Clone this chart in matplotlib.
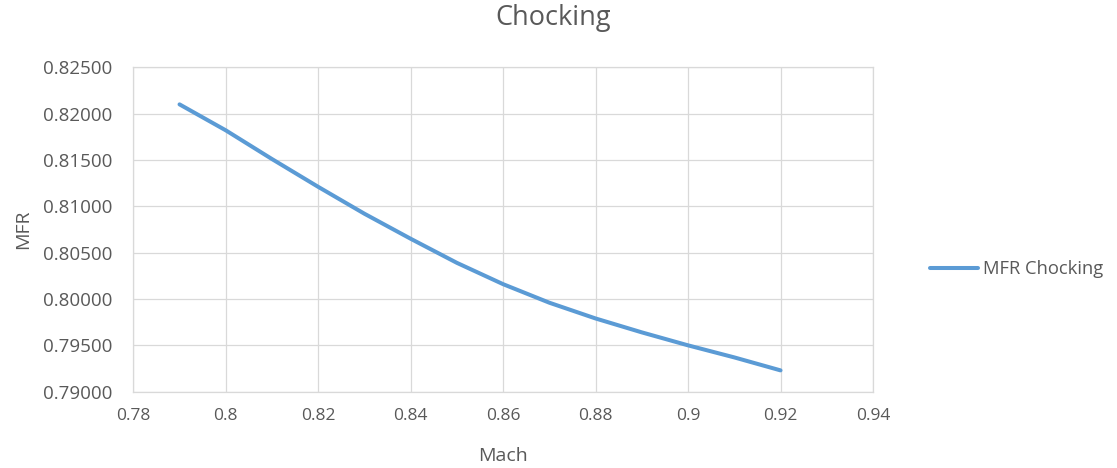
import matplotlib
matplotlib.use("Agg")
import matplotlib.pyplot as plt
import numpy as np

# values
mach = [0.79, 0.80, 0.81, 0.82, 0.83, 0.84, 0.85, 0.86, 0.87, 0.88, 0.89, 0.90, 0.91, 0.92]
mfr = [0.8210, 0.8182, 0.8151, 0.8121, 0.8092, 0.8065, 0.8039, 0.8016, 0.7996, 0.7979,
       0.7964, 0.7950, 0.7937, 0.7923]
x_ticks = [0.78, 0.80, 0.82, 0.84, 0.86, 0.88, 0.90, 0.92, 0.94]
x_labels = ["0.78", "0.8", "0.82", "0.84", "0.86", "0.88", "0.9", "0.92", "0.94"]
y_ticks = [0.790, 0.795, 0.800, 0.805, 0.810, 0.815, 0.820, 0.825]

plt.rcParams['font.family'] = ['Open Sans', 'DejaVu Sans']
grey = "#595959"
grid = "#D9D9D9"

fig = plt.figure(figsize=(11.17, 4.68), dpi=100)
ax = fig.add_axes([133.3 / 1117, 1 - 391.7 / 468, (873 - 133.3) / 1117, (391.7 - 67.3) / 468])

line, = ax.plot(mach, mfr, color="#5B9BD5", lw=2.9, solid_capstyle="round",
                solid_joinstyle="round", label="MFR Chocking")

ax.set_xlim(0.78, 0.94)
ax.set_ylim(0.790, 0.825)
ax.set_xticks(x_ticks)
ax.set_xticklabels(x_labels)
ax.set_yticks(y_ticks)
ax.set_yticklabels([f"{v:.5f}" for v in y_ticks])
ax.tick_params(length=0, colors=grey)
ax.tick_params(axis="x", labelsize=12.5, pad=12)
ax.tick_params(axis="y", labelsize=13.5, pad=15)
ax.grid(True, color=grid, lw=0.9)
ax.set_axisbelow(True)
for s in ax.spines.values():
    s.set_color(grid)
    s.set_linewidth(0.9)

ax.set_xlabel("Mach", color=grey, fontsize=14, labelpad=16)
ax.set_ylabel("MFR", color=grey, fontsize=14, labelpad=8)
fig.text(553 / 1117, 1 - 18 / 468, "Chocking", ha="center", va="center",
         color=grey, fontsize=19.5)

fig.legend(handles=[line], loc="center left", bbox_to_anchor=(930 / 1117, 1 - 269 / 468),
           frameon=False, fontsize=13.2, handlelength=2.6, handletextpad=0.3,
           borderpad=0, borderaxespad=0, labelcolor=grey)

fig.savefig("out.png", dpi=100)
